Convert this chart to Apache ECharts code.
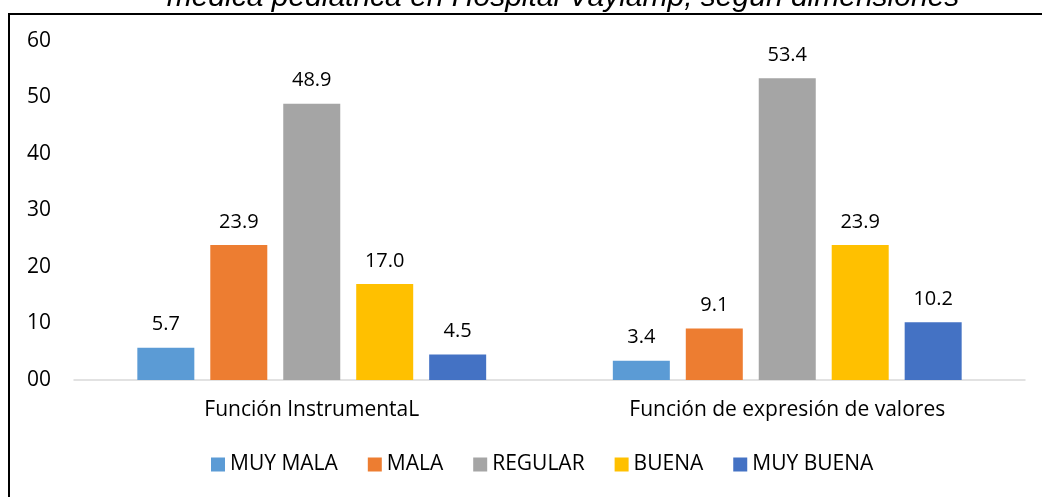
<!DOCTYPE html>
<html>
<head>
<meta charset="utf-8">
<script src="https://cdn.jsdelivr.net/npm/echarts@6/dist/echarts.min.js"></script>
<style>
  html, body { margin: 0; padding: 0; background: #fff; }
  #chart { width: 1042px; height: 497px; }
</style>
</head>
<body>
<div id="chart"></div>
<script>
var categories = ['Función InstrumentaL', 'Función de expresión de valores'];
var levels = ['MUY MALA', 'MALA', 'REGULAR', 'BUENA', 'MUY BUENA'];
var colors = ['#5B9BD5', '#ED7D31', '#A5A5A5', '#FFC000', '#4472C4'];
var muyMala = [5.7, 3.4];
var mala = [23.9, 9.1];
var regular = [48.9, 53.4];
var buena = [17.0, 23.9];
var muyBuena = [4.5, 10.2];
var values = [muyMala, mala, regular, buena, muyBuena];
var yTicks = { min: 0, max: 60, interval: 10 };
var titleText = 'médica pediátrica en Hospital Vaylamp, según dimensiones';

var font = '"Open Sans", "Noto Sans", sans-serif';
var myChart = echarts.init(document.getElementById('chart'));

var series = [];
for (var i = 0; i < levels.length; i++) {
    series.push({
        name: levels[i],
        type: 'bar',
        data: values[i],
        barWidth: 57,
        barGap: '28%',
        itemStyle: { color: colors[i] },
        label: {
            show: true,
            position: 'top',
            distance: 13,
            color: '#000',
            fontSize: 20,
            fontFamily: font,
            formatter: function (p) { return p.value.toFixed(1); }
        }
    });
}

var option = {
    animation: false,
    backgroundColor: '#fff',
    textStyle: { fontFamily: font },
    graphic: [
        {
            type: 'rect',
            shape: { x: 9, y: 14, width: 1050, height: 500 },
            style: { fill: 'none', stroke: '#000', lineWidth: 2 },
            z: -1
        },
        {
            type: 'text',
            x: 563,
            y: 13,
            style: {
                text: titleText,
                fill: '#000',
                font: 'italic 30px "Liberation Sans", Arial, sans-serif',
                align: 'center',
                verticalAlign: 'bottom'
            }
        }
    ],
    grid: { left: 74, right: 17, top: 41, bottom: 117, containLabel: false },
    legend: {
        bottom: 17,
        left: 206,
        itemWidth: 14,
        itemHeight: 14,
        itemGap: 30,
        icon: 'rect',
        textStyle: { color: '#000', fontSize: 21, fontFamily: font },
        data: levels
    },
    xAxis: {
        type: 'category',
        data: categories,
        axisLine: { lineStyle: { color: '#d9d9d9', width: 1.5 } },
        axisTick: { show: false },
        axisLabel: { color: '#000', fontSize: 21, fontFamily: font, margin: 20 }
    },
    yAxis: {
        type: 'value',
        min: yTicks.min,
        max: yTicks.max,
        interval: yTicks.interval,
        splitLine: { show: false },
        axisLine: { show: false },
        axisTick: { show: false },
        axisLabel: {
            color: '#000', fontSize: 21, fontFamily: font, margin: 23,
            formatter: function (v) { return (v < 10 ? '0' : '') + v; }
        }
    },
    series: series
};
myChart.setOption(option);
</script>
</body>
</html>
